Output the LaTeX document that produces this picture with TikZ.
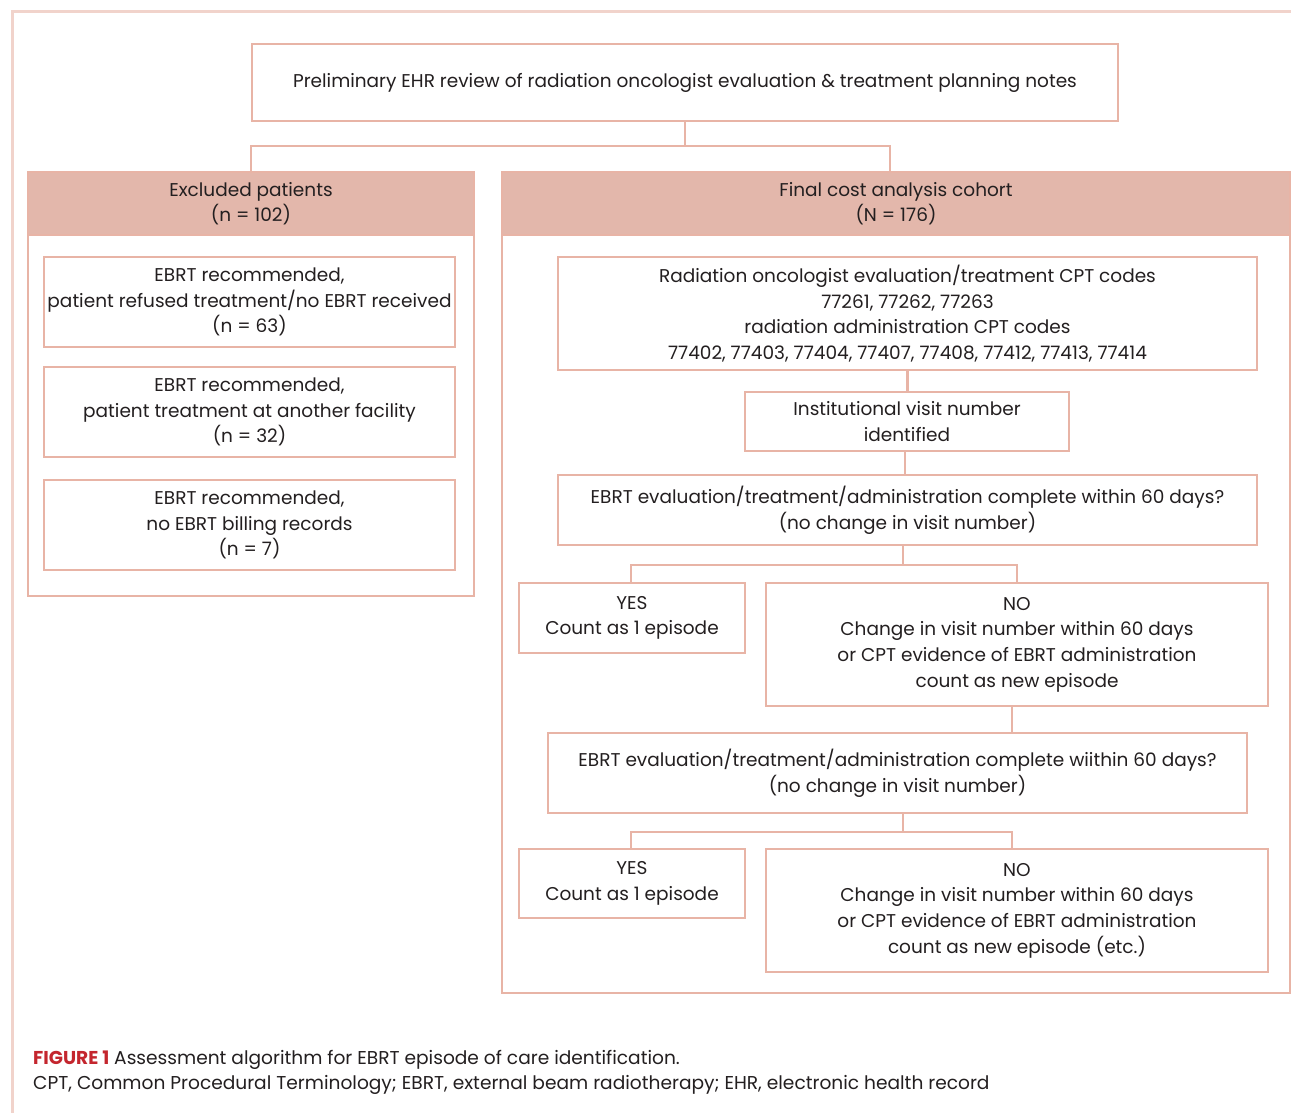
\documentclass[tikz,border=0pt]{standalone}
\usepackage{fontspec}
\setmainfont{Poppins}
\definecolor{bord}{HTML}{E8B4A6}
\definecolor{hdr}{HTML}{E3B7AB}
\definecolor{frame}{HTML}{F1D3CB}
\definecolor{txt}{HTML}{231F20}
\definecolor{figred}{HTML}{C4262E}
\newcommand{\fs}{\fontsize{18.5}{25.6}\selectfont}
\begin{document}
\begin{tikzpicture}[x=1pt,y=-1pt,
  box/.style={draw=bord,line width=2.6pt,inner sep=0pt,align=center,font=\fs,text=txt},
  hbox/.style={box,fill=hdr},
  conn/.style={draw=bord,line width=2.6pt}]
\useasboundingbox (0,0) rectangle (1291,1113);
\fill[white] (0,0) rectangle (1291,1113);
% outer frame
\draw[frame,line width=3pt] (12,1113) -- (12,12) -- (1291,12);
% top
\node[box,minimum width=866pt,minimum height=77pt] (top) at (685,82.5) {Preliminary EHR review of radiation oncologist evaluation \& treatment planning notes};
% excluded panel
\node[box,minimum width=446pt,minimum height=424pt] (expanel) at (251,384) {};
\node[hbox,minimum width=446pt,minimum height=63pt] (exhdr) at (251,203.5) {Excluded patients\\(n = 102)};
\node[box,minimum width=411pt,minimum height=90pt] (ex1) at (249.5,302) {EBRT recommended,\\patient refused treatment/no EBRT received\\(n = 63)};
\node[box,minimum width=411pt,minimum height=90pt] (ex2) at (249.5,412) {EBRT recommended,\\patient treatment at another facility\\(n = 32)};
\node[box,minimum width=411pt,minimum height=90pt] (ex3) at (249.5,525) {EBRT recommended,\\no EBRT billing records\\(n = 7)};
% final panel
\node[box,minimum width=788pt,minimum height=821pt] (fpanel) at (896,582.5) {};
\node[hbox,minimum width=788pt,minimum height=63pt] (fhdr) at (896,203.5) {Final cost analysis cohort\\(N = 176)};
\node[box,minimum width=699pt,minimum height=113pt] (cpt) at (907.5,313.5) {Radiation oncologist evaluation/treatment CPT codes\\77261, 77262, 77263\\radiation administration CPT codes\\77402, 77403, 77404, 77407, 77408, 77412, 77413, 77414};
\node[box,minimum width=324pt,minimum height=59pt] (inst) at (907,421.5) {Institutional visit number\\identified};
\node[box,minimum width=699pt,minimum height=70pt] (q1) at (907.5,510) {EBRT evaluation/treatment/administration complete within 60 days?\\(no change in visit number)};
\node[box,minimum width=226pt,minimum height=70pt] (yes1) at (632,618) {YES\\Count as 1 episode};
\node[box,minimum width=502pt,minimum height=123pt] (no1) at (1017,644.5) {NO\\Change in visit number within 60 days\\or CPT evidence of EBRT administration\\count as new episode};
\node[box,minimum width=699pt,minimum height=80pt] (q2) at (897.5,773) {EBRT evaluation/treatment/administration complete wiithin 60 days?\\(no change in visit number)};
\node[box,minimum width=226pt,minimum height=69pt] (yes2) at (632,883.5) {YES\\Count as 1 episode};
\node[box,minimum width=502pt,minimum height=123pt] (no2) at (1017,910.5) {NO\\Change in visit number within 60 days\\or CPT evidence of EBRT administration\\count as new episode (etc.)};
% connectors
\coordinate (j1) at (685,146);
\coordinate (j2) at (903,565);
\coordinate (j3) at (903,832);
\draw[conn] (top.south) -- (j1);
\draw[conn] (exhdr.north) |- (j1) -| ([xshift=-6pt]fhdr.north);
\draw[conn] (cpt.south) -- (cpt.south |- inst.north);
\draw[conn] ([xshift=-2pt]inst.south) -- ([xshift=-2pt]inst.south |- q1.north);
\draw[conn] ([xshift=-4.5pt]q1.south) -- (j2);
\draw[conn] ([xshift=-1pt]yes1.north) |- (j2) -| (no1.north);
\draw[conn] ([xshift=-5pt]no1.south) -- ([xshift=-5pt]no1.south |- q2.north);
\draw[conn] ([xshift=5.5pt]q2.south) -- (j3);
\draw[conn] ([xshift=-1pt]yes2.north) |- (j3) -| ([xshift=-5pt]no2.north);
% caption
\node[anchor=base west,inner sep=0pt,font=\fontsize{18.6}{20}\selectfont,text=txt] (cap1) at (33,1064) {{\color{figred}\bfseries FIGURE 1} Assessment algorithm for EBRT episode of care identification.};
\node[anchor=base west,inner sep=0pt,font=\fontsize{18.6}{20}\selectfont,text=txt] (cap2) at (33,1089) {CPT, Common Procedural Terminology; EBRT, external beam radiotherapy; EHR, electronic health record};
\end{tikzpicture}
\end{document}
